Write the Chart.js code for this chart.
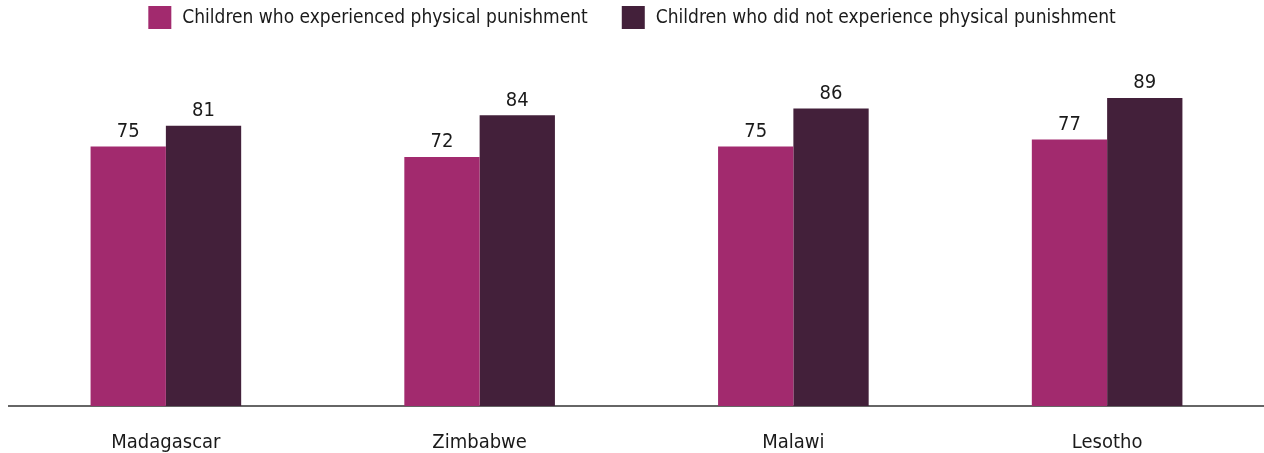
<!DOCTYPE html>
<html>
<head>
<meta charset="utf-8">
<script src="https://cdn.jsdelivr.net/npm/chart.js@4/dist/chart.umd.min.js"></script>
<style>
    html, body { margin: 0; padding: 0; background: #fff; }
    #wrap { width: 1264px; height: 453px; }
</style>
</head>
<body>
<div id="wrap"><canvas id="chart" width="1264" height="453"></canvas></div>
<script>
var countries = ['Madagascar', 'Zimbabwe', 'Malawi', 'Lesotho']
var seriesNames = ['Children who experienced physical punishment', 'Children who did not experience physical punishment']
var experienced = [75, 72, 75, 77]
var notExperienced = [81, 84, 86, 89]
var seriesColors = ['#a22a6e', '#43203a']

var fontFamily = "'Liberation Sans Narrow', 'DejaVu Sans Condensed', Roboto, sans-serif"
var textColor = '#1a1a1a'

// legend drawn by hand so the spacing between the two items can match
var topLegend = {
    id: 'topLegend',
    afterDraw: function (chart) {
        var ctx = chart.ctx
        var box = 23, gap = 11, itemGap = 34
        ctx.save()
        ctx.font = '19px ' + fontFamily
        ctx.textBaseline = 'middle'
        var widths = chart.data.datasets.map(function (ds) { return ctx.measureText(ds.label).width })
        var total = 0
        for (var i = 0; i < widths.length; i++) {
            total += box + gap + widths[i]
            if (i > 0) total += itemGap
        }
        var x = (chart.width - total) / 2
        var cy = 17.5
        chart.data.datasets.forEach(function (ds, i) {
            ctx.fillStyle = ds.backgroundColor
            ctx.fillRect(x, cy - box / 2, box, box)
            ctx.fillStyle = textColor
            ctx.textAlign = 'left'
            ctx.fillText(ds.label, x + box + gap, cy + 1)
            x += box + gap + widths[i] + itemGap
        })
        ctx.restore()
    }
}

var valueLabels = {
    id: 'valueLabels',
    afterDatasetsDraw: function (chart) {
        var ctx = chart.ctx
        ctx.save()
        ctx.font = '20px ' + fontFamily
        ctx.fillStyle = textColor
        ctx.textAlign = 'center'
        ctx.textBaseline = 'bottom'
        chart.data.datasets.forEach(function (ds, di) {
            chart.getDatasetMeta(di).data.forEach(function (bar, i) {
                ctx.fillText(ds.data[i], bar.x, bar.y - 5)
            })
        })
        ctx.restore()
    }
}

var ctx = document.getElementById('chart').getContext('2d')
var chart = new Chart(ctx, {
    type: 'bar',
    data: {
        labels: countries,
        datasets: [{
            label: seriesNames[0],
            data: experienced,
            backgroundColor: seriesColors[0],
            borderWidth: 0
        }, {
            label: seriesNames[1],
            data: notExperienced,
            backgroundColor: seriesColors[1],
            borderWidth: 0
        }]
    },
    options: {
        responsive: false,
        animation: false,
        layout: { padding: { left: 9, right: 0, top: 60, bottom: 0 } },
        categoryPercentage: 0.48,
        barPercentage: 1,
        plugins: {
            legend: { display: false },
            tooltip: { enabled: false }
        },
        scales: {
            x: {
                grid: { display: false, drawTicks: false },
                border: { display: true, color: '#666', width: 2 },
                ticks: {
                    color: textColor,
                    padding: 25,
                    font: { family: fontFamily, size: 20 }
                },
                afterFit: function (scale) { scale.height = 47 }
            },
            y: {
                display: false,
                min: 0,
                max: 100
            }
        }
    },
    plugins: [topLegend, valueLabels]
})
</script>
</body>
</html>
